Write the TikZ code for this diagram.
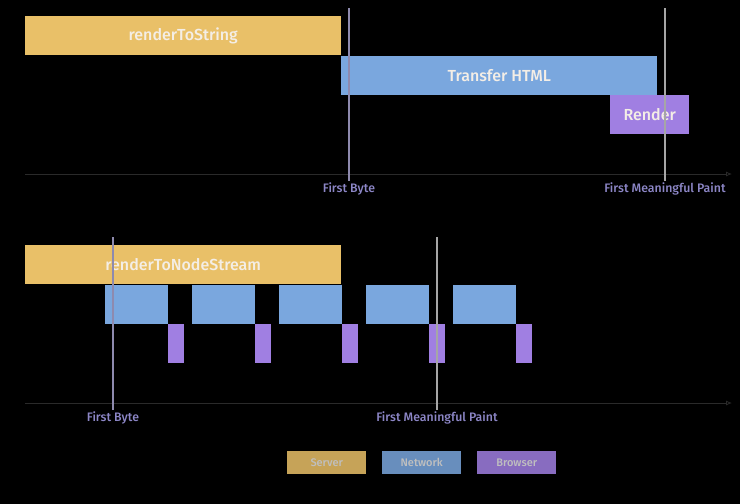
\documentclass[tikz,border=0pt]{standalone}
\usepackage{fontspec}
\setmainfont{Fira Sans}
\newfontfamily\medfont{Fira Sans Medium}
\usetikzlibrary{arrows.meta}
\definecolor{srvc}{HTML}{E9C068}
\definecolor{netc}{HTML}{7AA7DE}
\definecolor{brwc}{HTML}{A07FE2}
\definecolor{labc}{HTML}{8C86C6}
\definecolor{axc}{HTML}{2A2A2A}
\definecolor{mkc}{HTML}{8E8AAE}
\definecolor{boxtxt}{HTML}{F4EEE6}
\tikzset{
  bar/.style={anchor=north west, inner sep=0pt, text=boxtxt, font=\medfont\fontsize{16}{18}\selectfont},
  srv/.style={bar, fill=srvc},
  net/.style={bar, fill=netc},
  brw/.style={bar, fill=brwc},
  legbox/.style={anchor=north west, inner sep=0pt, minimum width=79pt, minimum height=23pt, text=white!75!black, font=\medfont\fontsize{11}{13}\selectfont},
  marker/.style={draw=mkc, line width=1.2pt},
  axis/.style={draw=axc, line width=0.8pt, -{Latex[length=6pt,width=5pt,open]}},
  mlabel/.style={text=labc, font=\medfont\fontsize{12.3}{14}\selectfont, anchor=north, inner sep=1pt}
}
\begin{document}
\begin{tikzpicture}[x=1pt,y=-1pt]
\fill[black] (0,0) rectangle (740,504);
\useasboundingbox (0,0) rectangle (740,504);

% ---- top timeline ----
\coordinate (ax1s) at (25,174);
\coordinate (ax1e) at (732,174);
\draw[axis] (ax1s) -- (ax1e);
\node[srv, minimum width=316pt, minimum height=39pt] (rts) at (25,16) {renderToString};
\node[net, minimum width=316pt, minimum height=39pt] (th) at (341,56) {Transfer HTML};
\node[brw, minimum width=79pt, minimum height=39pt] (rnd) at (610,95) {Render};
\coordinate (fb1t) at (349,8);
\coordinate (fb1b) at (349,181);
\coordinate (fm1t) at (665,8);
\coordinate (fm1b) at (665,181);
\draw[marker] (fb1t) -- (fb1b);
\draw[marker, draw=white!65!black] (fm1t) -- (fm1b);
\node[mlabel] (fb1l) at (349,181) {First Byte};
\node[mlabel] (fm1l) at (665,181) {First Meaningful Paint};

% ---- bottom timeline ----
\coordinate (ax2s) at (25,403);
\coordinate (ax2e) at (732,403);
\draw[axis] (ax2s) -- (ax2e);
\node[srv, minimum width=316pt, minimum height=39pt] (rtns) at (25,245) {renderToNodeStream};
\node[net, minimum width=63pt, minimum height=39pt] (n1) at (105,285) {};
\node[net, minimum width=63pt, minimum height=39pt] (n2) at (192,285) {};
\node[net, minimum width=63pt, minimum height=39pt] (n3) at (279,285) {};
\node[net, minimum width=63pt, minimum height=39pt] (n4) at (366,285) {};
\node[net, minimum width=63pt, minimum height=39pt] (n5) at (453,285) {};
\node[brw, minimum width=16pt, minimum height=39pt] (b1) at (168,324) {};
\node[brw, minimum width=16pt, minimum height=39pt] (b2) at (255,324) {};
\node[brw, minimum width=16pt, minimum height=39pt] (b3) at (342,324) {};
\node[brw, minimum width=16pt, minimum height=39pt] (b4) at (429,324) {};
\node[brw, minimum width=16pt, minimum height=39pt] (b5) at (516,324) {};
\coordinate (fb2t) at (113,237);
\coordinate (fb2b) at (113,410);
\coordinate (fm2t) at (437,237);
\coordinate (fm2b) at (437,410);
\draw[marker] (fb2t) -- (fb2b);
\draw[marker, draw=white!65!black] (fm2t) -- (fm2b);
\node[mlabel] (fb2l) at (113,410) {First Byte};
\node[mlabel] (fm2l) at (437,410) {First Meaningful Paint};

% ---- legend ----
\node[legbox, fill=srvc!85!black] (lgs) at (287,451) {Server};
\node[legbox, fill=netc!85!black] (lgn) at (382,451) {Network};
\node[legbox, fill=brwc!85!black] (lgb) at (477,451) {Browser};
\end{tikzpicture}
\end{document}
